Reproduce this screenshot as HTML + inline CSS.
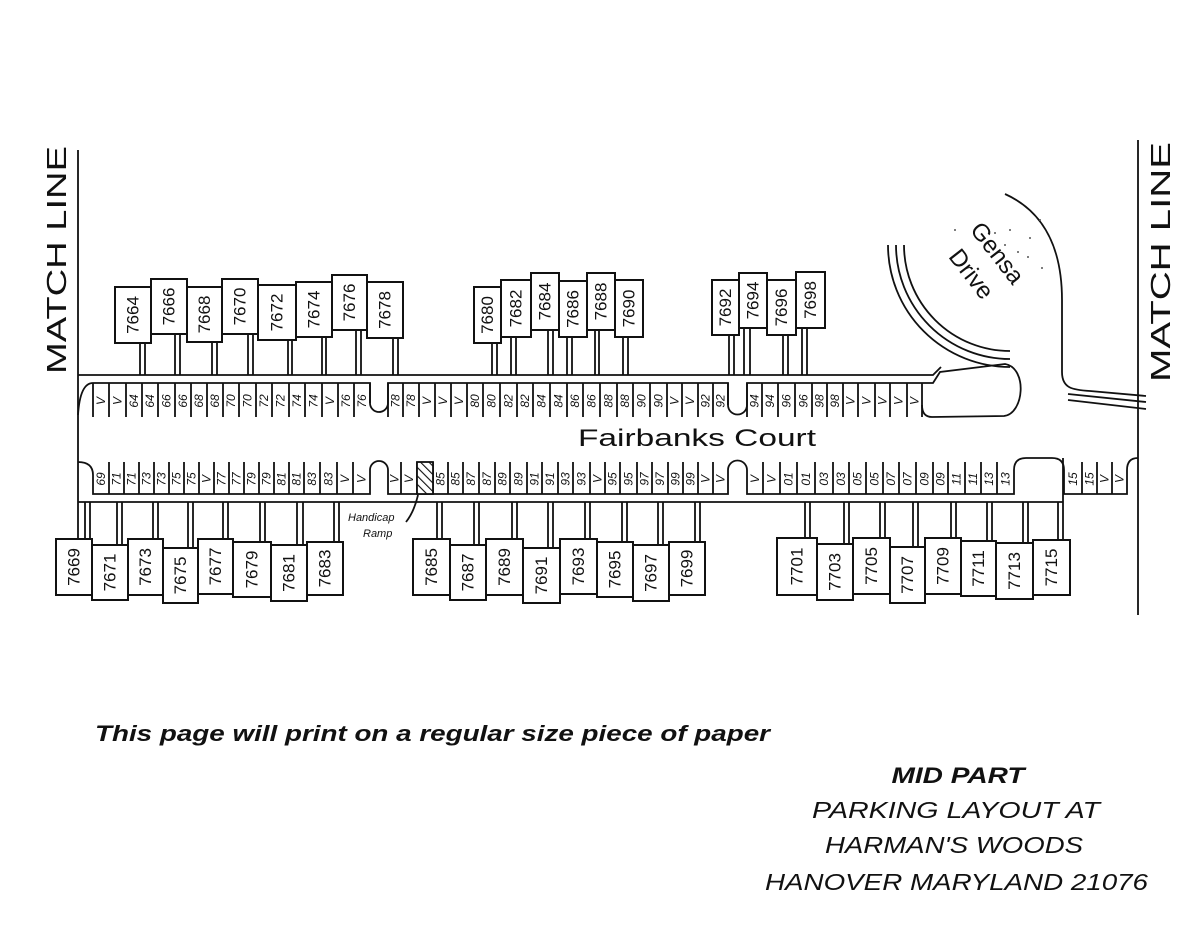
<!DOCTYPE html>
<html><head><meta charset="utf-8"><style>
html,body{margin:0;padding:0;background:#fff}
svg{display:block}
.h rect{fill:#fff;stroke:#111;stroke-width:2}
.h text{font:17px "Liberation Sans",sans-serif;text-anchor:middle;dominant-baseline:central;fill:#111}
.s{font:italic 12px "Liberation Sans",sans-serif;text-anchor:middle;dominant-baseline:central;fill:#111}
.ln{fill:none;stroke:#111;stroke-width:1.8}
</style></head><body>
<svg width="1200" height="927" viewBox="0 0 1200 927" xmlns="http://www.w3.org/2000/svg">
<!-- match lines -->
<path class="ln" d="M78,150V539 M1138,140V615"/>
<text transform="translate(66,260) rotate(-90)" text-anchor="middle" font-family="Liberation Sans" font-size="28" fill="#111" textLength="228" lengthAdjust="spacingAndGlyphs">MATCH LINE</text>
<text transform="translate(1170,262) rotate(-90)" text-anchor="middle" font-family="Liberation Sans" font-size="28" fill="#111" textLength="240" lengthAdjust="spacingAndGlyphs">MATCH LINE</text>

<!-- top strip -->
<path class="ln" d="M78,415 Q80,383 93,383 L370,383 L370,403 A9,9 0 0 0 388,403 L388,383 L728,383 L728,405 A9.5,9.5 0 0 0 747,405 L747,383 L933,383 L940,372 L1005,364 C1028,368 1024,414 1004,416 L932,417 Q922,417 922,405"/>
<path class="ln" d="M93,383V417 M109,383V417 M126,383V417 M142,383V417 M158,383V417 M175,383V417 M191,383V417 M207,383V417 M223,383V417 M239,383V417 M256,383V417 M272,383V417 M289,383V417 M305,383V417 M322,383V417 M338,383V417 M354,383V417 M370,383V403
M388,383V417 M403,383V417 M419,383V417 M435,383V417 M451,383V417 M467,383V417 M483,383V417 M500,383V417 M517,383V417 M533,383V417 M550,383V417 M567,383V417 M583,383V417 M600,383V417 M617,383V417 M633,383V417 M650,383V417 M667,383V417 M682,383V417 M698,383V417 M713,383V417 M728,383V405
M747,383V417 M762,383V417 M778,383V417 M795,383V417 M812,383V417 M827,383V417 M843,383V417 M858,383V417 M875,383V417 M890,383V417 M907,383V417 M922,383V417"/>
<g class="s">
<text transform="translate(101,401) rotate(-90)">V</text><text transform="translate(117.5,401) rotate(-90)">V</text><text transform="translate(134,401) rotate(-90)">64</text><text transform="translate(150,401) rotate(-90)">64</text><text transform="translate(166.5,401) rotate(-90)">66</text><text transform="translate(183,401) rotate(-90)">66</text><text transform="translate(199,401) rotate(-90)">68</text><text transform="translate(215,401) rotate(-90)">68</text><text transform="translate(231,401) rotate(-90)">70</text><text transform="translate(247.5,401) rotate(-90)">70</text><text transform="translate(264,401) rotate(-90)">72</text><text transform="translate(280.5,401) rotate(-90)">72</text><text transform="translate(297,401) rotate(-90)">74</text><text transform="translate(313.5,401) rotate(-90)">74</text><text transform="translate(330,401) rotate(-90)">V</text><text transform="translate(346,401) rotate(-90)">76</text><text transform="translate(362,401) rotate(-90)">76</text>
<text transform="translate(395.5,401) rotate(-90)">78</text><text transform="translate(411,401) rotate(-90)">78</text><text transform="translate(427,401) rotate(-90)">V</text><text transform="translate(443,401) rotate(-90)">V</text><text transform="translate(459,401) rotate(-90)">V</text><text transform="translate(475,401) rotate(-90)">80</text><text transform="translate(491.5,401) rotate(-90)">80</text><text transform="translate(508.5,401) rotate(-90)">82</text><text transform="translate(525,401) rotate(-90)">82</text><text transform="translate(541.5,401) rotate(-90)">84</text><text transform="translate(558.5,401) rotate(-90)">84</text><text transform="translate(575,401) rotate(-90)">86</text><text transform="translate(591.5,401) rotate(-90)">86</text><text transform="translate(608.5,401) rotate(-90)">88</text><text transform="translate(625,401) rotate(-90)">88</text><text transform="translate(641.5,401) rotate(-90)">90</text><text transform="translate(658.5,401) rotate(-90)">90</text><text transform="translate(674.5,401) rotate(-90)">V</text><text transform="translate(690,401) rotate(-90)">V</text><text transform="translate(705.5,401) rotate(-90)">92</text><text transform="translate(720.5,401) rotate(-90)">92</text>
<text transform="translate(754.5,401) rotate(-90)">94</text><text transform="translate(770,401) rotate(-90)">94</text><text transform="translate(786.5,401) rotate(-90)">96</text><text transform="translate(803.5,401) rotate(-90)">96</text><text transform="translate(819.5,401) rotate(-90)">98</text><text transform="translate(835,401) rotate(-90)">98</text><text transform="translate(850.5,401) rotate(-90)">V</text><text transform="translate(866.5,401) rotate(-90)">V</text><text transform="translate(882.5,401) rotate(-90)">V</text><text transform="translate(898.5,401) rotate(-90)">V</text><text transform="translate(914.5,401) rotate(-90)">V</text>
</g>

<!-- top house line & notches -->
<path class="ln" d="M78,375 L933,375 L941,367"/>
<path class="ln" d="M140,343V375 M145,343V375 M175,334V375 M180,334V375 M212,342V375 M217,342V375 M248,334V375 M253,334V375 M288,340V375 M292,340V375 M322,337V375 M326,337V375 M356,330V375 M361,330V375 M393,338V375 M398,338V375 M492,343V375 M497,343V375 M511,337V375 M516,337V375 M548,330V375 M553,330V375 M567,337V375 M572,337V375 M595,330V375 M599,330V375 M623,337V375 M628,337V375 M729,335V375 M734,335V375 M744,328V375 M750,328V375 M783,335V375 M788,335V375 M802,328V375 M807,328V375"/>
<g class="h">
<rect x="115" y="287" width="36" height="56"/><text transform="translate(133,315) rotate(-90)">7664</text>
<rect x="151" y="279" width="36" height="55"/><text transform="translate(169,306.5) rotate(-90)">7666</text>
<rect x="187" y="287" width="35" height="55"/><text transform="translate(204.5,314.5) rotate(-90)">7668</text>
<rect x="222" y="279" width="36" height="55"/><text transform="translate(240,306.5) rotate(-90)">7670</text>
<rect x="258" y="285" width="38" height="55"/><text transform="translate(277,312.5) rotate(-90)">7672</text>
<rect x="296" y="282" width="36" height="55"/><text transform="translate(314,309.5) rotate(-90)">7674</text>
<rect x="332" y="275" width="35" height="55"/><text transform="translate(349.5,302.5) rotate(-90)">7676</text>
<rect x="367" y="282" width="36" height="56"/><text transform="translate(385,310) rotate(-90)">7678</text>
<rect x="474" y="287" width="27" height="56"/><text transform="translate(487.5,315) rotate(-90)">7680</text>
<rect x="501" y="280" width="30" height="57"/><text transform="translate(516,308.5) rotate(-90)">7682</text>
<rect x="531" y="273" width="28" height="57"/><text transform="translate(545,301.5) rotate(-90)">7684</text>
<rect x="559" y="281" width="28" height="56"/><text transform="translate(573,309) rotate(-90)">7686</text>
<rect x="587" y="273" width="28" height="57"/><text transform="translate(601,301.5) rotate(-90)">7688</text>
<rect x="615" y="280" width="28" height="57"/><text transform="translate(629,308.5) rotate(-90)">7690</text>
<rect x="712" y="280" width="27" height="55"/><text transform="translate(725.5,307.5) rotate(-90)">7692</text>
<rect x="739" y="273" width="28" height="55"/><text transform="translate(753,300.5) rotate(-90)">7694</text>
<rect x="767" y="280" width="29" height="55"/><text transform="translate(781.5,307.5) rotate(-90)">7696</text>
<rect x="796" y="272" width="29" height="56"/><text transform="translate(810.5,300) rotate(-90)">7698</text>
</g>

<!-- Gensa Drive -->
<path class="ln" d="M888,245 A122,122 0 0 0 1010,367 M896,245 A114,114 0 0 0 1010,359 M904,245 A106,106 0 0 0 1010,351"/>
<path class="ln" d="M1005,194 C1045,212 1062,250 1062,300 L1062,372 C1062,388 1072,390 1090,391 L1146,396 M1068,394 L1146,402 M1068,400 L1146,409"/>
<text transform="translate(991,258) rotate(52)" text-anchor="middle" font-family="Liberation Sans" font-size="24" fill="#111">Gensa</text>
<text transform="translate(965,279) rotate(52)" text-anchor="middle" font-family="Liberation Sans" font-size="24" fill="#111">Drive</text>
<g fill="#555"><circle cx="1010" cy="230" r="1"/><circle cx="1030" cy="238" r="1"/><circle cx="1040" cy="220" r="1"/><circle cx="1018" cy="252" r="1"/><circle cx="1042" cy="268" r="1"/><circle cx="1005" cy="245" r="1"/><circle cx="995" cy="233" r="1"/><circle cx="1028" cy="257" r="1"/><circle cx="955" cy="230" r="1"/></g>

<!-- Fairbanks Court -->
<text x="578" y="446" font-family="Liberation Sans" font-size="24" fill="#111" textLength="238" lengthAdjust="spacingAndGlyphs">Fairbanks Court</text>

<!-- bottom strip -->
<path class="ln" d="M78,462 Q93,462 93,475 L93,494 L370,494 L370,470 A9,9 0 0 1 388,470 L388,494 L728,494 L728,470 A9.5,9.5 0 0 1 747,470 L747,494 L1014,494 L1014,470 Q1014,458 1026,458 L1052,458 Q1064,458 1064,470 L1064,494 L1127,494 L1127,470 Q1127,458 1138,458"/>
<path class="ln" d="M109,462V494 M124,462V494 M139,462V494 M154,462V494 M169,462V494 M184,462V494 M199,462V494 M214,462V494 M229,462V494 M244,462V494 M259,462V494 M274,462V494 M289,462V494 M304,462V494 M320,462V494 M337,462V494 M353,462V494
M401,462V494 M417,462V494 M433,462V494 M448,462V494 M463,462V494 M479,462V494 M495,462V494 M510,462V494 M527,462V494 M542,462V494 M558,462V494 M573,462V494 M590,462V494 M605,462V494 M620,462V494 M637,462V494 M652,462V494 M668,462V494 M683,462V494 M698,462V494 M713,462V494
M763,462V494 M780,462V494 M797,462V494 M815,462V494 M833,462V494 M849,462V494 M866,462V494 M883,462V494 M899,462V494 M916,462V494 M933,462V494 M948,462V494 M965,462V494 M981,462V494 M997,462V494
M1082,462V494 M1097,462V494 M1112,462V494"/>
<rect x="417" y="462" width="16" height="32" fill="url(#hatch)" stroke="#111" stroke-width="1.8"/>
<defs><pattern id="hatch" width="6" height="6" patternUnits="userSpaceOnUse" patternTransform="rotate(-45)"><rect width="6" height="6" fill="#fff"/><line x1="0" y1="0" x2="0" y2="6" stroke="#111" stroke-width="2.2"/></pattern></defs>
<g class="s">
<text transform="translate(101,479) rotate(-90)">69</text><text transform="translate(116.5,479) rotate(-90)">71</text><text transform="translate(131.5,479) rotate(-90)">71</text><text transform="translate(146.5,479) rotate(-90)">73</text><text transform="translate(161.5,479) rotate(-90)">73</text><text transform="translate(176.5,479) rotate(-90)">75</text><text transform="translate(191.5,479) rotate(-90)">75</text><text transform="translate(206.5,479) rotate(-90)">V</text><text transform="translate(221.5,479) rotate(-90)">77</text><text transform="translate(236.5,479) rotate(-90)">77</text><text transform="translate(251.5,479) rotate(-90)">79</text><text transform="translate(266.5,479) rotate(-90)">79</text><text transform="translate(281.5,479) rotate(-90)">81</text><text transform="translate(296.5,479) rotate(-90)">81</text><text transform="translate(312,479) rotate(-90)">83</text><text transform="translate(328.5,479) rotate(-90)">83</text><text transform="translate(345,479) rotate(-90)">V</text><text transform="translate(361.5,479) rotate(-90)">V</text>
<text transform="translate(394.5,479) rotate(-90)">V</text><text transform="translate(409,479) rotate(-90)">V</text><text transform="translate(440.5,479) rotate(-90)">85</text><text transform="translate(455.5,479) rotate(-90)">85</text><text transform="translate(471,479) rotate(-90)">87</text><text transform="translate(487,479) rotate(-90)">87</text><text transform="translate(502.5,479) rotate(-90)">89</text><text transform="translate(518.5,479) rotate(-90)">89</text><text transform="translate(534.5,479) rotate(-90)">91</text><text transform="translate(550,479) rotate(-90)">91</text><text transform="translate(565.5,479) rotate(-90)">93</text><text transform="translate(581.5,479) rotate(-90)">93</text><text transform="translate(597.5,479) rotate(-90)">V</text><text transform="translate(612.5,479) rotate(-90)">95</text><text transform="translate(628.5,479) rotate(-90)">95</text><text transform="translate(644.5,479) rotate(-90)">97</text><text transform="translate(660,479) rotate(-90)">97</text><text transform="translate(675.5,479) rotate(-90)">99</text><text transform="translate(690.5,479) rotate(-90)">99</text><text transform="translate(705.5,479) rotate(-90)">V</text><text transform="translate(720.5,479) rotate(-90)">V</text>
<text transform="translate(755,479) rotate(-90)">V</text><text transform="translate(771.5,479) rotate(-90)">V</text><text transform="translate(788.5,479) rotate(-90)">01</text><text transform="translate(806,479) rotate(-90)">01</text><text transform="translate(824,479) rotate(-90)">03</text><text transform="translate(841,479) rotate(-90)">03</text><text transform="translate(857.5,479) rotate(-90)">05</text><text transform="translate(874.5,479) rotate(-90)">05</text><text transform="translate(891,479) rotate(-90)">07</text><text transform="translate(907.5,479) rotate(-90)">07</text><text transform="translate(924.5,479) rotate(-90)">09</text><text transform="translate(940.5,479) rotate(-90)">09</text><text transform="translate(956.5,479) rotate(-90)">11</text><text transform="translate(973,479) rotate(-90)">11</text><text transform="translate(989,479) rotate(-90)">13</text><text transform="translate(1005.5,479) rotate(-90)">13</text>
<text transform="translate(1073,479) rotate(-90)">15</text><text transform="translate(1089.5,479) rotate(-90)">15</text><text transform="translate(1104.5,479) rotate(-90)">V</text><text transform="translate(1119.5,479) rotate(-90)">V</text>
</g>

<!-- bottom house line & notches -->
<path class="ln" d="M78,502 L1063,502"/>
<path class="ln" d="M85,502V539 M90,502V539 M117,502V545 M122,502V545 M153,502V539 M158,502V539 M188,502V548 M193,502V548 M223,502V539 M228,502V539 M260,502V542 M265,502V542 M297,502V545 M303,502V545 M334,502V542 M339,502V542 M437,502V539 M442,502V539 M474,502V545 M479,502V545 M512,502V539 M517,502V539 M548,502V548 M553,502V548 M585,502V539 M590,502V539 M622,502V542 M627,502V542 M658,502V545 M663,502V545 M695,502V542 M700,502V542 M805,502V538 M810,502V538 M844,502V544 M849,502V544 M880,502V538 M885,502V538 M913,502V547 M918,502V547 M951,502V538 M956,502V538 M987,502V541 M992,502V541 M1023,502V543 M1028,502V543 M1058,502V540 M1063,458V540"/>
<g class="h">
<rect x="56" y="539" width="36" height="56"/><text transform="translate(74,567) rotate(-90)">7669</text>
<rect x="92" y="545" width="36" height="55"/><text transform="translate(110,572.5) rotate(-90)">7671</text>
<rect x="128" y="539" width="35" height="56"/><text transform="translate(145.5,567) rotate(-90)">7673</text>
<rect x="163" y="548" width="35" height="55"/><text transform="translate(180.5,575.5) rotate(-90)">7675</text>
<rect x="198" y="539" width="35" height="55"/><text transform="translate(215.5,566.5) rotate(-90)">7677</text>
<rect x="233" y="542" width="38" height="55"/><text transform="translate(252,569.5) rotate(-90)">7679</text>
<rect x="271" y="545" width="36" height="56"/><text transform="translate(289,573) rotate(-90)">7681</text>
<rect x="307" y="542" width="36" height="53"/><text transform="translate(325,568.5) rotate(-90)">7683</text>
<rect x="413" y="539" width="37" height="56"/><text transform="translate(431.5,567) rotate(-90)">7685</text>
<rect x="450" y="545" width="36" height="55"/><text transform="translate(468,572.5) rotate(-90)">7687</text>
<rect x="486" y="539" width="37" height="56"/><text transform="translate(504.5,567) rotate(-90)">7689</text>
<rect x="523" y="548" width="37" height="55"/><text transform="translate(541.5,575.5) rotate(-90)">7691</text>
<rect x="560" y="539" width="37" height="55"/><text transform="translate(578.5,566.5) rotate(-90)">7693</text>
<rect x="597" y="542" width="36" height="55"/><text transform="translate(615,569.5) rotate(-90)">7695</text>
<rect x="633" y="545" width="36" height="56"/><text transform="translate(651,573) rotate(-90)">7697</text>
<rect x="669" y="542" width="36" height="53"/><text transform="translate(687,568.5) rotate(-90)">7699</text>
<rect x="777" y="538" width="40" height="57"/><text transform="translate(797,566.5) rotate(-90)">7701</text>
<rect x="817" y="544" width="36" height="56"/><text transform="translate(835,572) rotate(-90)">7703</text>
<rect x="853" y="538" width="37" height="56"/><text transform="translate(871.5,566) rotate(-90)">7705</text>
<rect x="890" y="547" width="35" height="56"/><text transform="translate(907.5,575) rotate(-90)">7707</text>
<rect x="925" y="538" width="36" height="56"/><text transform="translate(943,566) rotate(-90)">7709</text>
<rect x="961" y="541" width="35" height="55"/><text transform="translate(978.5,568.5) rotate(-90)">7711</text>
<rect x="996" y="543" width="37" height="56"/><text transform="translate(1014.5,571) rotate(-90)">7713</text>
<rect x="1033" y="540" width="37" height="55"/><text transform="translate(1051.5,567.5) rotate(-90)">7715</text>
</g>

<!-- handicap ramp -->
<text x="348" y="521" font-family="Liberation Sans" font-style="italic" font-size="11" fill="#111">Handicap</text>
<text x="363" y="537" font-family="Liberation Sans" font-style="italic" font-size="11" fill="#111">Ramp</text>
<path class="ln" stroke-width="1.3" d="M418,495 Q414,512 406,522"/>

<!-- captions -->
<text x="95" y="741" font-family="Liberation Sans" font-weight="bold" font-style="italic" font-size="22" fill="#111" textLength="675" lengthAdjust="spacingAndGlyphs">This page will print on a regular size piece of paper</text>
<text x="958" y="783" text-anchor="middle" font-family="Liberation Sans" font-weight="bold" font-style="italic" font-size="22" fill="#111" textLength="133" lengthAdjust="spacingAndGlyphs">MID PART</text>
<text x="812" y="818" font-family="Liberation Sans" font-style="italic" font-size="23" fill="#111" textLength="288" lengthAdjust="spacingAndGlyphs">PARKING LAYOUT AT</text>
<text x="825" y="853" font-family="Liberation Sans" font-style="italic" font-size="23" fill="#111" textLength="258" lengthAdjust="spacingAndGlyphs">HARMAN'S WOODS</text>
<text x="765" y="890" font-family="Liberation Sans" font-style="italic" font-size="23" fill="#111" textLength="383" lengthAdjust="spacingAndGlyphs">HANOVER MARYLAND 21076</text>
</svg>
</body></html>
